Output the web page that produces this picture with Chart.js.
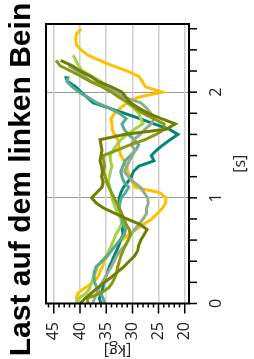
<!DOCTYPE html>
<html>
<head>
<meta charset="utf-8">
<script src="https://cdn.jsdelivr.net/npm/chart.js@4.4.1/dist/chart.umd.min.js"></script>
<style>
  html, body { margin: 0; padding: 0; background: #fff; overflow: hidden; }
  #wrap {
    position: absolute; left: 0; top: 0;
    width: 359px; height: 254px;
    transform-origin: 0 0;
    transform: translate(0, 359px) rotate(-90deg);
  }
</style>
</head>
<body>
<div id="wrap"><canvas id="chart" width="359" height="254"></canvas></div>
<script>
// ---- Data ----
const times = [0, 0.05, 0.1, 0.15, 0.2, 0.25, 0.3, 0.35, 0.4, 0.45, 0.5, 0.55, 0.6, 0.65, 0.7, 0.75, 0.8, 0.85, 0.9, 0.95,
  1, 1.05, 1.1, 1.15, 1.2, 1.25, 1.3, 1.35, 1.4, 1.45, 1.5, 1.55, 1.6, 1.65, 1.7, 1.75, 1.8, 1.85, 1.9, 1.95,
  2, 2.05, 2.1, 2.15, 2.2, 2.25, 2.3, 2.35, 2.4, 2.45, 2.5, 2.55, 2.6];

const timeTicks = [0, 0.2, 0.4, 0.6, 0.8, 1, 1.2, 1.4, 1.6, 1.8, 2, 2.2, 2.4, 2.6];
const kgTicks = [20, 21, 22, 23, 24, 25, 26, 27, 28, 29, 30, 31, 32, 33, 34, 35, 36, 37, 38, 39, 40, 41, 42, 43, 44, 45, 46];

const oliveA = [40.0, 39.0, 37.8, 36.6, 35.3, 34.0, 32.8, 31.6, 30.6, 29.6,
  29.0, 28.8, 28.4, 27.8, 27.2, 28.6, 31.0, 33.2, 35.4, 36.9,
  37.8, 36.8, 35.8, 35.6, 35.9, 35.7, 35.9, 36.2, 36.0, 35.8,
  36.0, 36.2, 31.5, 23.5, 21.8, 24.5, 27.0, 28.8, 30.4, 31.2,
  32.0, 34.0, 36.5, 38.0, 40.0, 41.5, 43.7];

const oliveB = [38.5, 38.6, 36.0, 34.5, 33.8, 33.3, 33.0, 32.8, 32.5, 32.2,
  31.8, 31.3, 30.8, 30.4, 30.6, 31.2, 31.6, 32.0, 32.5, 33.0,
  33.5, 34.0, 34.5, 34.9, 35.2, 35.5, 35.3, 35.5, 35.6, 33.0,
  30.5, 27.6, 25.5, 23.8, 24.0, 26.0, 28.0, 29.4, 30.8, 32.5,
  34.0, 35.8, 38.0, 39.8, 41.8, 43.8, 44.6];

const grayGreen = [37.6, 37.2, 36.8, 36.3, 35.8, 35.2, 34.6, 34.0, 33.5, 33.0,
  32.3, 31.4, 30.8, 30.3, 29.6, 28.7, 28.0, 27.3, 27.3, 27.0,
  27.1, 27.8, 28.5, 29.8, 30.8, 31.5, 31.0, 30.6, 30.0, 29.5,
  30.2, 29.8, 28.5, 27.6, 26.4, 25.9, 26.5, 27.3, 28.4, 31.5,
  33.3, 35.0, 37.8, 39.2, 40.6, 42.2];

const midTeal = [35.3, 35.6, 36.2, 36.8, 37.2, 37.4, 37.3, 36.9, 35.8, 34.8,
  34.0, 33.2, 32.4, 31.6, 31.3, 31.8, 32.0, 32.2, 32.5, 32.4,
  32.1, 31.3, 30.7, 31.6, 32.0, 32.2, 31.8, 31.4, 30.4, 29.4,
  28.8, 29.6, 30.8, 31.6, 32.0, 31.2, 32.5, 34.5, 36.8, 38.5,
  40.2, 41.5, 42.5, 42.2];

const lime = [40.8, 40.2, 38.8, 38.1, 37.8, 37.4, 37.0, 36.7, 35.9, 35.0,
  34.5, 34.0, 33.6, 33.2, 32.6, 32.1, 32.2, 32.7, 33.2, 33.6,
  33.9, 34.1, 34.3, 34.6, 34.4, 34.2, 33.9, 34.2, 34.3, 33.7,
  33.0, 32.2, 31.0, 29.6, 28.0, 28.4, 28.8, 29.8, 31.0, 32.3,
  33.4, 34.6, 36.0, 37.7, 39.5, 40.3, 40.8, 41.3];

const darkTeal = [36.0, 36.3, 35.9, 35.6, 35.5, 35.1, 34.7, 34.4, 33.9, 33.5,
  33.0, 32.6, 32.3, 31.8, 31.9, 32.0, 32.1, 32.4, 32.6, 32.6,
  32.5, 32.2, 31.7, 30.9, 30.2, 29.8, 28.8, 25.9, 26.4, 25.4,
  24.2, 22.8, 21.3, 23.0, 25.9, 28.6, 31.5, 34.5, 37.5, 38.6,
  39.8, 40.8, 42.3, 42.8];

const yellow = [40.4, 40.7, 40.4, 39.0, 37.5, 36.6, 36.2, 35.7, 35.4, 34.8,
  34.2, 33.2, 32.0, 30.8, 29.3, 27.8, 26.3, 25.3, 24.3, 23.7,
  23.6, 24.8, 29.5, 30.0, 30.4, 30.9, 31.1, 31.6, 32.2, 32.5,
  32.6, 32.8, 33.4, 33.9, 33.9, 34.1, 33.4, 32.3, 31.0, 29.0,
  24.3, 27.5, 28.1, 28.8, 31.0, 33.8, 36.2, 38.5, 39.8, 40.7,
  40.8, 40.7, 39.8];

// ---- Styling ----
const series = [
  { values: oliveA, color: '#6f7e00' },
  { values: oliveB, color: '#899a12' },
  { values: grayGreen, color: '#92ad8c' },
  { values: midTeal, color: '#5aab8f' },
  { values: lime, color: '#a8cf45' },
  { values: darkTeal, color: '#00877a' },
  { values: yellow, color: '#ffc000' }
];

const datasets = series.map(s => ({
  data: s.values.map((v, i) => ({ x: times[i], y: v })),
  borderColor: s.color,
  borderWidth: 3,
  pointRadius: 0,
  tension: 0,
  fill: false
}));

// box + outward tick marks
const frame = {
  id: 'frame',
  afterDraw(chart) {
    const { ctx, chartArea: a, scales: { x, y } } = chart;
    ctx.save();
    ctx.strokeStyle = '#000';
    ctx.lineWidth = 1.5;
    ctx.beginPath();
    timeTicks.forEach(v => {
      const px = x.getPixelForValue(v);
      ctx.moveTo(px, a.bottom);
      ctx.lineTo(px, a.bottom + 8);
    });
    kgTicks.forEach(v => {
      const py = y.getPixelForValue(v);
      const len = v % 5 === 0 ? 10 : 4;
      ctx.moveTo(a.left, py);
      ctx.lineTo(a.left - len, py);
    });
    ctx.stroke();
    ctx.lineWidth = 2;
    ctx.strokeRect(a.left, a.top, a.right - a.left, a.bottom - a.top);
    ctx.restore();
  }
};

Chart.defaults.color = '#222';
Chart.defaults.font.family = "'Open Sans', sans-serif";

new Chart(document.getElementById('chart'), {
  type: 'line',
  data: { datasets },
  options: {
    responsive: false,
    animation: false,
    devicePixelRatio: 1,
    layout: { padding: 0 },
    plugins: {
      legend: { display: false },
      tooltip: { enabled: false },
      title: {
        display: true,
        text: 'Last auf dem linken Bein',
        color: '#000',
        font: { family: "'Liberation Sans', Arial, sans-serif", size: 30, weight: 'bold' },
        padding: { top: 4, bottom: 6 }
      }
    },
    scales: {
      x: {
        type: 'linear',
        position: 'bottom',
        min: 0,
        max: 2.645,
        afterBuildTicks: s => { s.ticks = timeTicks.map(v => ({ value: v })); },
        afterFit: s => { s.height = 65; },
        ticks: {
          autoSkip: false,
          maxRotation: 0,
          padding: 18,
          font: { size: 16 },
          callback: v => (v === 0 || v === 1 || v === 2) ? String(v) : ''
        },
        grid: {
          drawTicks: false,
          lineWidth: 1,
          color: c => (c.tick && (c.tick.value === 1 || c.tick.value === 2)) ? '#999' : 'transparent'
        },
        border: { display: false },
        title: { display: true, text: '[s]', font: { size: 16 }, padding: { top: 0, bottom: 4 } }
      },
      y: {
        type: 'linear',
        position: 'left',
        min: 19.2,
        max: 46.5,
        afterBuildTicks: s => { s.ticks = kgTicks.map(v => ({ value: v })); },
        afterFit: s => { s.width = 55.5; },
        ticks: {
          autoSkip: false,
          padding: 18.5,
          font: { size: 16 },
          callback: v => v % 5 === 0 ? String(v) : ''
        },
        grid: {
          drawTicks: false,
          lineWidth: 1.5,
          color: c => (c.tick && c.tick.value % 5 === 0) ? '#cfcfcf' : 'transparent'
        },
        border: { display: false },
        title: { display: true, text: '[kg]', font: { size: 16 }, padding: { top: 0, bottom: 0 } }
      },
      pad: {
        type: 'linear',
        position: 'right',
        display: true,
        afterFit: s => { s.width = 24; },
        ticks: { display: false },
        grid: { display: false, drawOnChartArea: false },
        border: { display: false }
      }
    }
  },
  plugins: [frame]
});
</script>
</body>
</html>
